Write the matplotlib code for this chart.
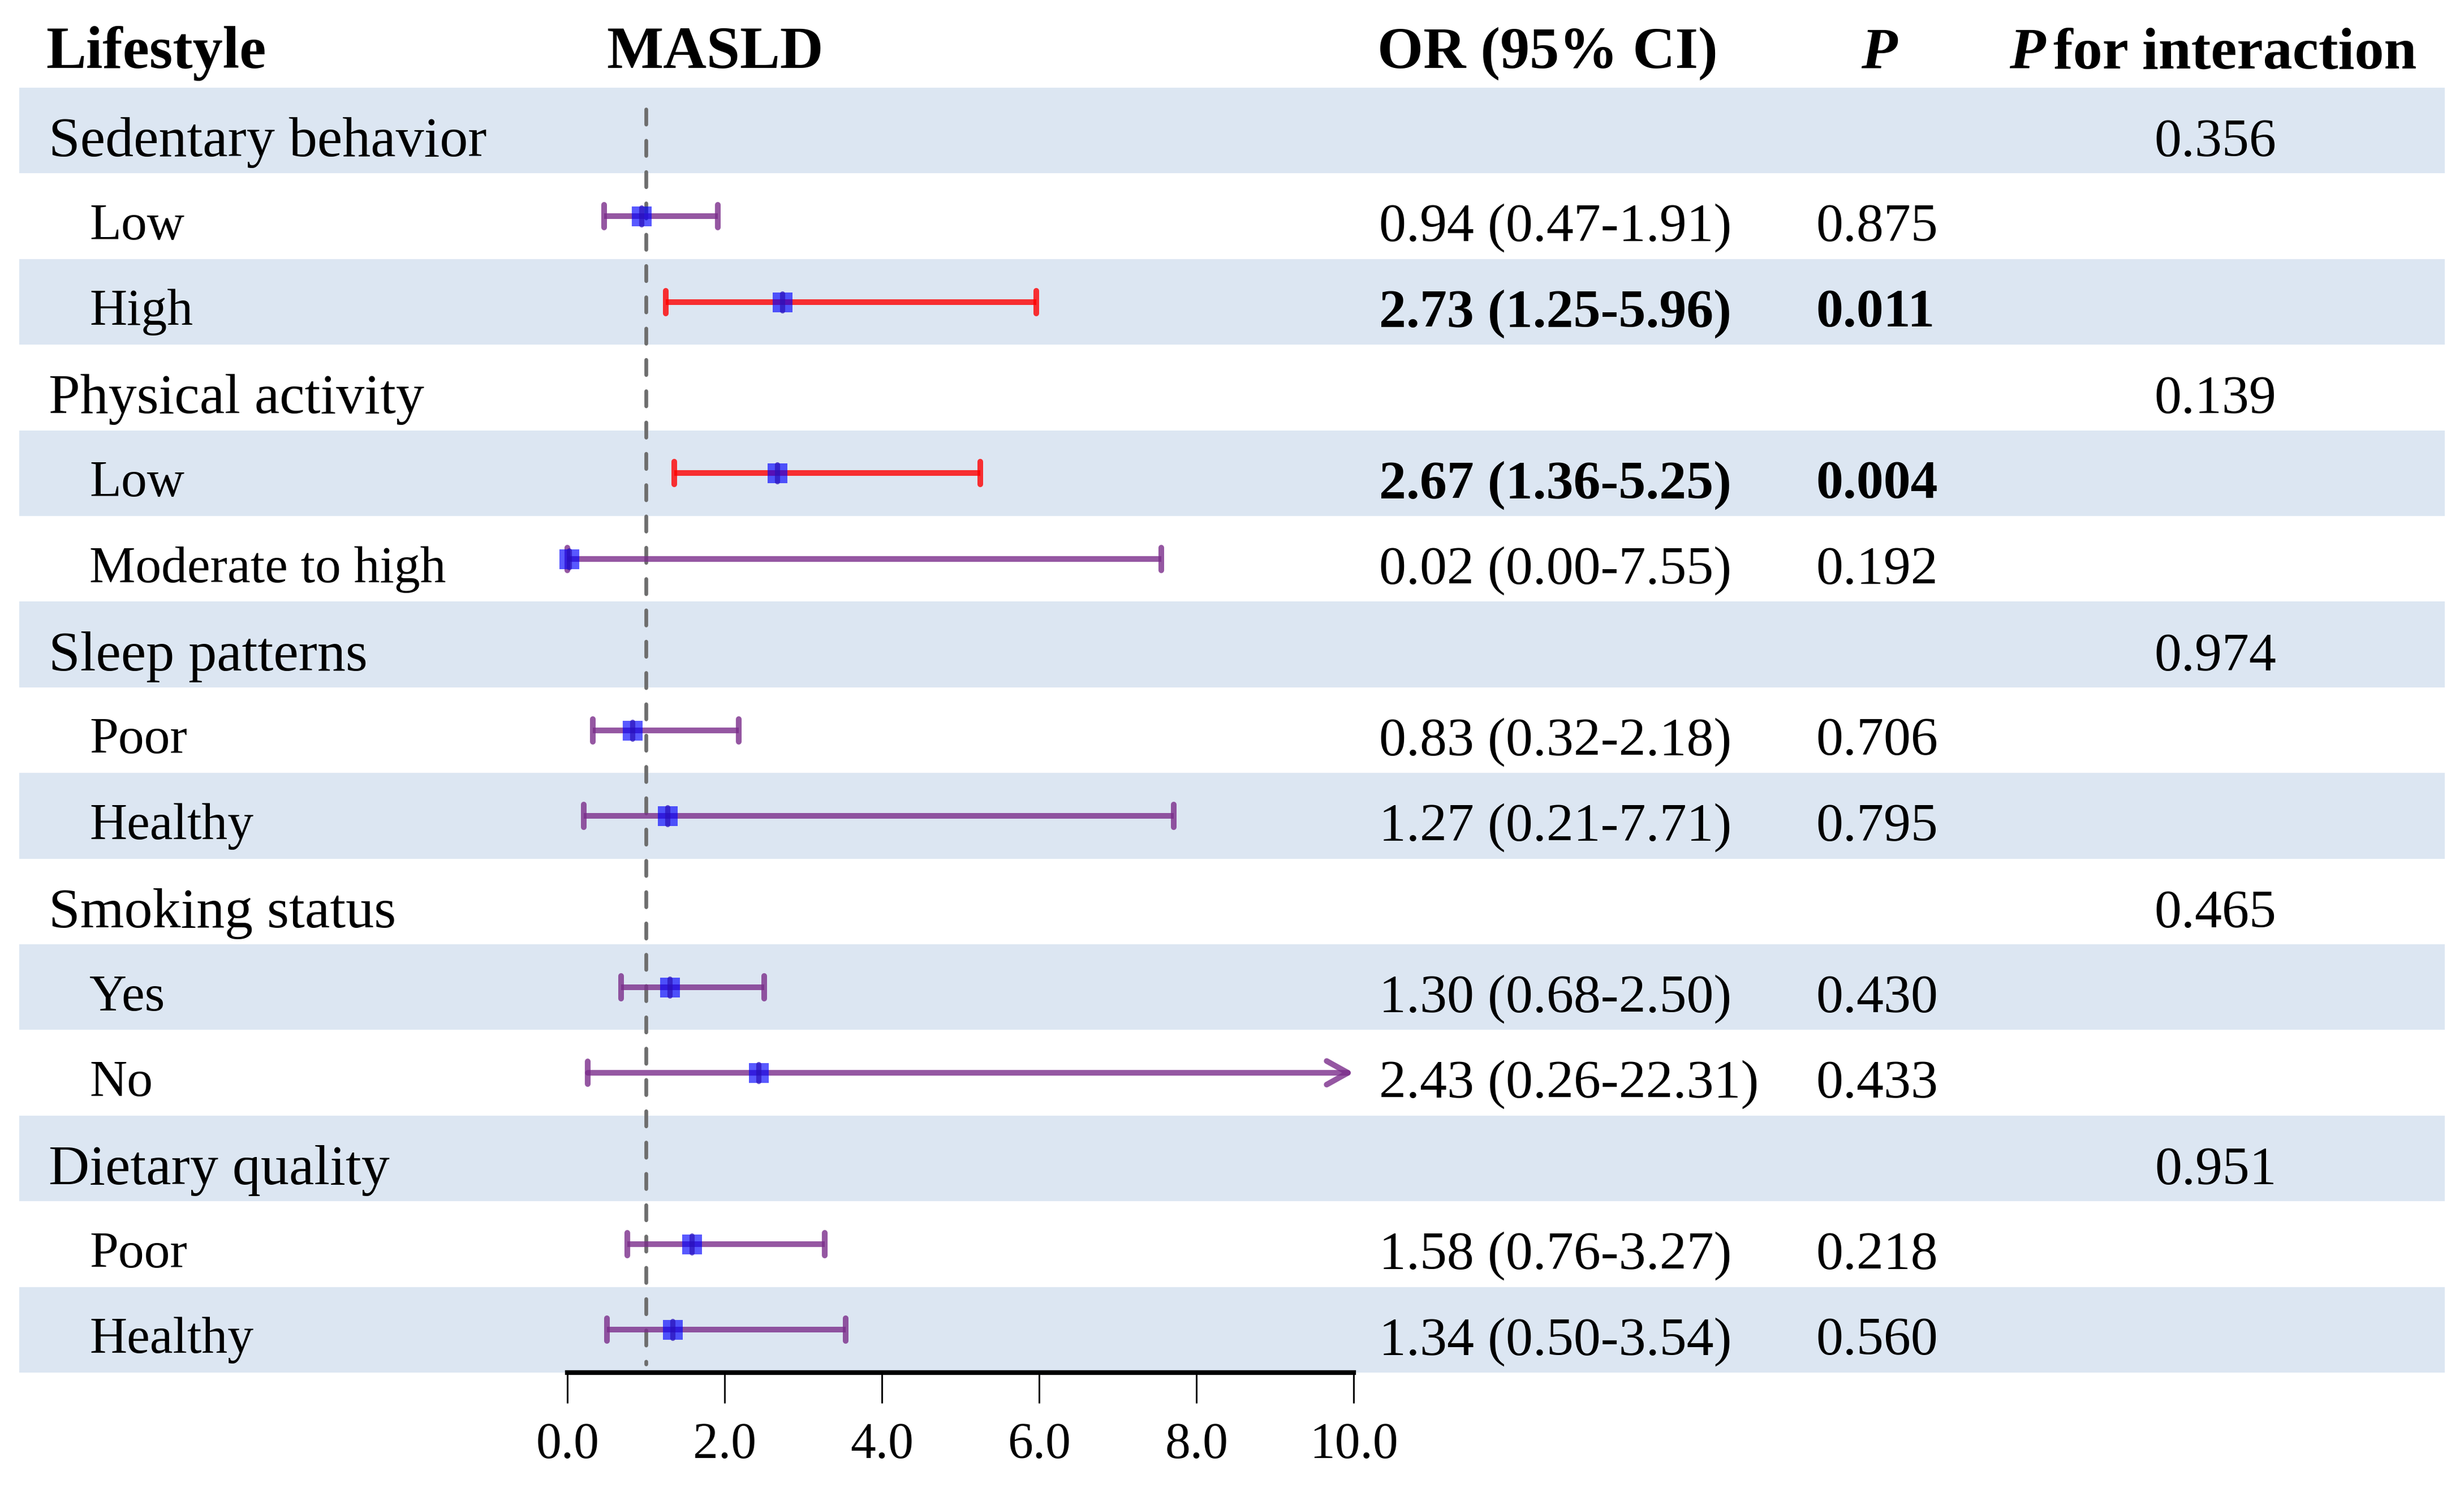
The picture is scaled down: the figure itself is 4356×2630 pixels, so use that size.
import matplotlib
matplotlib.use("Agg")
import matplotlib.pyplot as plt
from matplotlib.markers import MarkerStyle

plt.rcParams["font.family"] = ["Liberation Serif", "DejaVu Serif"]

# data
groups = ["Sedentary behavior", "Physical activity", "Sleep patterns", "Smoking status", "Dietary quality"]
p_interaction = ["0.356", "0.139", "0.974", "0.465", "0.951"]
subgroups = [["Low", "High"], ["Low", "Moderate to high"], ["Poor", "Healthy"], ["Yes", "No"], ["Poor", "Healthy"]]
or_vals = [0.94, 2.73, 2.67, 0.02, 0.83, 1.27, 1.30, 2.43, 1.58, 1.34]
ci_low = [0.47, 1.25, 1.36, 0.00, 0.32, 0.21, 0.68, 0.26, 0.76, 0.50]
ci_high = [1.91, 5.96, 5.25, 7.55, 2.18, 7.71, 2.50, 22.31, 3.27, 3.54]
p_vals = ["0.875", "0.011", "0.004", "0.192", "0.706", "0.795", "0.430", "0.433", "0.218", "0.560"]
x_ticks = [0, 2, 4, 6, 8, 10]

BAND = "#DCE6F2"
PURPLE = "#7B2D8B"
RED = "#FF0000"
BLUE = "#0000FF"

fig = plt.figure(figsize=(14.52, 8.7667), dpi=300)
ax = fig.add_axes([0, 0, 1, 1])
ax.set_xlim(-7.216, 24.12)
ax.set_ylim(15.847, -1.524)

x_max = 10
n_rows = len(groups) + sum(len(s) for s in subgroups)

# alternating background bands
for i in range(0, n_rows, 2):
    ax.axhspan(i - 0.5, i + 0.5, xmin=0.0077, xmax=0.9922, color=BAND, lw=0, zorder=0)

# reference line at OR = 1
ax.vlines(1, -0.25, 14.4, colors="#6E6E6E", lw=1.6, linestyles=(0, (4, 4.3)),
          capstyle="round", zorder=1)

# headers
hy = -0.73
ax.text(-6.63, hy, "Lifestyle", fontsize=25.5, fontweight="bold", va="baseline")
ax.text(0.5, hy, "MASLD", fontsize=25.5, fontweight="bold", va="baseline")
ax.text(10.3, hy, "OR (95% CI)", fontsize=25, fontweight="bold", va="baseline")
ax.text(16.68, hy, "P", fontsize=25, fontweight="bold", style="italic", va="baseline", ha="center")
t_int = ax.text(23.52, hy, "for interaction", fontsize=25, fontweight="bold", va="baseline", ha="right")
ax.annotate("P", xy=(0, 0), xycoords=t_int, xytext=(-3.5, 0), textcoords="offset points",
            fontsize=25, fontweight="bold", style="italic", ha="right", va="bottom")

cap = MarkerStyle("|", capstyle="round")
row = 0
k = 0
for g, name in enumerate(groups):
    ax.text(-6.6, row + 0.30, name, fontsize=24, va="baseline")
    ax.text(20.96, row + 0.30, p_interaction[g], fontsize=23, va="baseline", ha="center")
    row += 1
    for sub in subgroups[g]:
        y = row
        sig = float(p_vals[k]) < 0.05
        col = RED if sig else PURPLE
        lo, hi, est = ci_low[k], ci_high[k], or_vals[k]
        if hi <= x_max:
            ax.plot([lo, hi], [y, y], color=col, lw=2.4, alpha=0.8, solid_capstyle="butt", zorder=2)
            ax.plot([lo, hi], [y, y], ls="none", marker=cap, ms=9.6, mew=2.4, color=col, alpha=0.8, zorder=2)
        else:
            ax.annotate("", xy=(x_max, y), xytext=(lo, y),
                        arrowprops=dict(arrowstyle="->,head_length=0.45,head_width=0.25",
                                        color=col, lw=2.4, alpha=0.8, shrinkA=0, shrinkB=0,
                                        mutation_scale=20, capstyle="round"), zorder=2)
            ax.plot([lo], [y], ls="none", marker=cap, ms=9.6, mew=2.4, color=col, alpha=0.8, zorder=2)
        ax.plot([est], [y], ls="none", marker="s", ms=8.4, mew=0, color=BLUE, alpha=0.65, zorder=3)
        ax.plot([est], [y], ls="none", marker=cap, ms=7, mew=2.2, color="#2A10B8", alpha=0.7, zorder=3)

        ax.text(-6.08, y + 0.27, sub, fontsize=22, va="baseline")
        w = "bold" if sig else "normal"
        ax.text(10.32, y + 0.29, f"{est:.2f} ({lo:.2f}-{hi:.2f})", fontsize=23, va="baseline", fontweight=w)
        ax.text(15.88, y + 0.29, p_vals[k], fontsize=23, va="baseline", fontweight=w)
        row += 1
        k += 1

# axis
for s in ["top", "left", "right"]:
    ax.spines[s].set_visible(False)
ax.spines["bottom"].set_position(("data", 14.5))
ax.spines["bottom"].set_bounds(0, 10)
ax.spines["bottom"].set_linewidth(2.0)
ax.set_xticks(x_ticks)
ax.set_xticklabels([f"{v:.1f}" for v in x_ticks])
ax.tick_params(axis="x", direction="out", length=13, width=0.7, pad=8, labelsize=21.5)
ax.set_yticks([])

fig.savefig("out.png", dpi=300)
